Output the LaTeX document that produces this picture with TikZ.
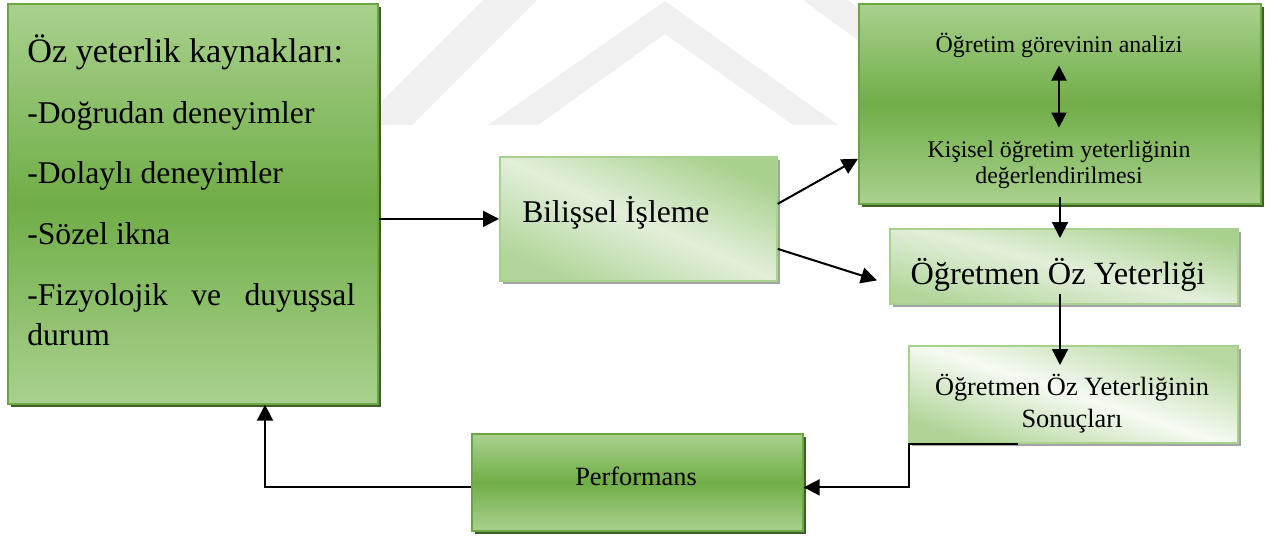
\documentclass[tikz,border=0pt]{standalone}
\usepackage{fontspec}
\setmainfont{Liberation Serif}
\usetikzlibrary{shadows,arrows.meta,calc}
\definecolor{gdark}{HTML}{70AD47}
\definecolor{glight}{HTML}{A9D18E}
\definecolor{gpale}{HTML}{E2EFDA}
\definecolor{gwhite}{HTML}{F6FAF3}
\definecolor{gshadow}{HTML}{3F5E28}
\definecolor{grshadow}{HTML}{A3A3A3}
\definecolor{gborder}{HTML}{6BA544}
\definecolor{wmark}{HTML}{F0F0F0}
\begin{document}
\begin{tikzpicture}[x=0.02cm,y=-0.02cm,
  darkbox/.style={draw=gborder, line width=1pt, top color=glight, bottom color=glight, middle color=gdark,
    anchor=north west, inner sep=0pt,
    drop shadow={shadow xshift=0.07cm, shadow yshift=-0.07cm, fill=gshadow, opacity=1}},
  lightbox/.style={draw=glight, line width=1pt, top color=glight, bottom color=glight!85!gpale, middle color=gpale,
    shading angle=-24, anchor=north west, inner sep=0pt,
    drop shadow={shadow xshift=0.065cm, shadow yshift=-0.065cm, fill=grshadow, opacity=1}},
  whitebox/.style={lightbox, top color=glight!75!gpale, bottom color=glight!90!gpale, middle color=gwhite, shading angle=-18},
  txt/.style={inner sep=0pt, anchor=base, text=black},
  txtl/.style={inner sep=0pt, anchor=base west, text=black},
  huge/.style={font=\fontsize{19.5}{23}\selectfont},
  big/.style={font=\fontsize{18}{22}\selectfont},
  mid/.style={font=\fontsize{15}{18}\selectfont},
  small/.style={font=\fontsize{13.6}{16}\selectfont},
  arr/.style={line width=1.15pt, -{Triangle[length=0.32cm,width=0.32cm]}},
  dbl/.style={line width=1.15pt, {Triangle[length=0.3cm,width=0.3cm]}-{Triangle[length=0.3cm,width=0.3cm]}}
]
\useasboundingbox (0,0) rectangle (1278,539);
% watermark
\fill[wmark] (358,125) -- (412,125) -- (537,0) -- (483,0) -- cycle;
\fill[wmark] (488,125) -- (665,1) -- (838,125) -- (793,125) -- (665,34) -- (538,125) -- cycle;
\fill[wmark] (803,0) -- (848,0) -- (885,30) -- (885,60) -- cycle;

% boxes
\node[darkbox, minimum width=7.4cm, minimum height=8cm] (src) at (7,3) {};
\node[lightbox, minimum width=5.54cm, minimum height=2.48cm] (bil) at (499,156) {};
\node[darkbox, minimum width=8.04cm, minimum height=4cm] (ana) at (858,3) {};
\node[lightbox, shading angle=-14, minimum width=6.96cm, minimum height=1.5cm] (oy) at (889,228) {};
\node[whitebox, minimum width=6.58cm, minimum height=1.94cm] (son) at (908,345) {};
\node[darkbox, minimum width=6.62cm, minimum height=1.94cm] (perf) at (471,433) {};

% texts
\node[txtl, huge] (s1) at (27,62) {Öz yeterlik kaynakları:};
\node[txtl, big] (s2) at (27,123) {-Doğrudan deneyimler};
\node[txtl, big] (s3) at (27,183) {-Dolaylı deneyimler};
\node[txtl, big] (s4) at (27,244) {-Sözel ikna};
\node[txtl, big] (s5) at (27,305) {\hbox to 6.56cm{-Fizyolojik\hfill ve\hfill duyuşsal}};
\node[txtl, big] (s6) at (27,345) {durum};
\node[txtl, big] (bilt) at (522,222) {Bilişsel İşleme};
\node[txt, small] (a1) at (1059,52) {Öğretim görevinin analizi};
\node[txt, small] (a2) at (1059,157) {Kişisel öğretim yeterliğinin};
\node[txt, small] (a3) at (1059,183) {değerlendirilmesi};
\node[txt, font=\fontsize{18.4}{22}\selectfont] (oyt) at (1058,284) {Öğretmen Öz Yeterliği};
\node[txt, mid] (so1) at (1072,395) {Öğretmen Öz Yeterliğinin};
\node[txt, mid] (so2) at (1072,427) {Sonuçları};
\node[txt, mid] (pt) at (636,485) {Performans};

% connectors
\draw[dbl, shorten <=0.16cm, shorten >=0.25cm] (a1.south) -- (a1.south |- a2.north);
\draw[arr] (src.east |- bil.west) -- (bil.west);
\draw[arr] ($(bil.east)+(0,-15)$) -- ($(ana.south west)+(0,-46)$);
\draw[arr] ($(bil.east)+(0,30)$) -- ($(oy.west)+(-12,14)$);
\draw[arr] ($(a1.south |- ana.south)+(1,-8)$) -- ($(a1.south |- oy.north)+(1,10)$);
\draw[arr] ($(a1.south |- oy.south)+(1,-11)$) -- ($(a1.south |- son.north)+(1,20)$);
\draw[arr] ($(son.south west)+(110,0)$) -- ($(son.south west)+(1,0)$) |- ($(perf.east)+(0,5)$);
\draw[arr] ($(perf.west)+(0,5)$) -| ($(src.south west)+(258,0)$);
\end{tikzpicture}
\end{document}
